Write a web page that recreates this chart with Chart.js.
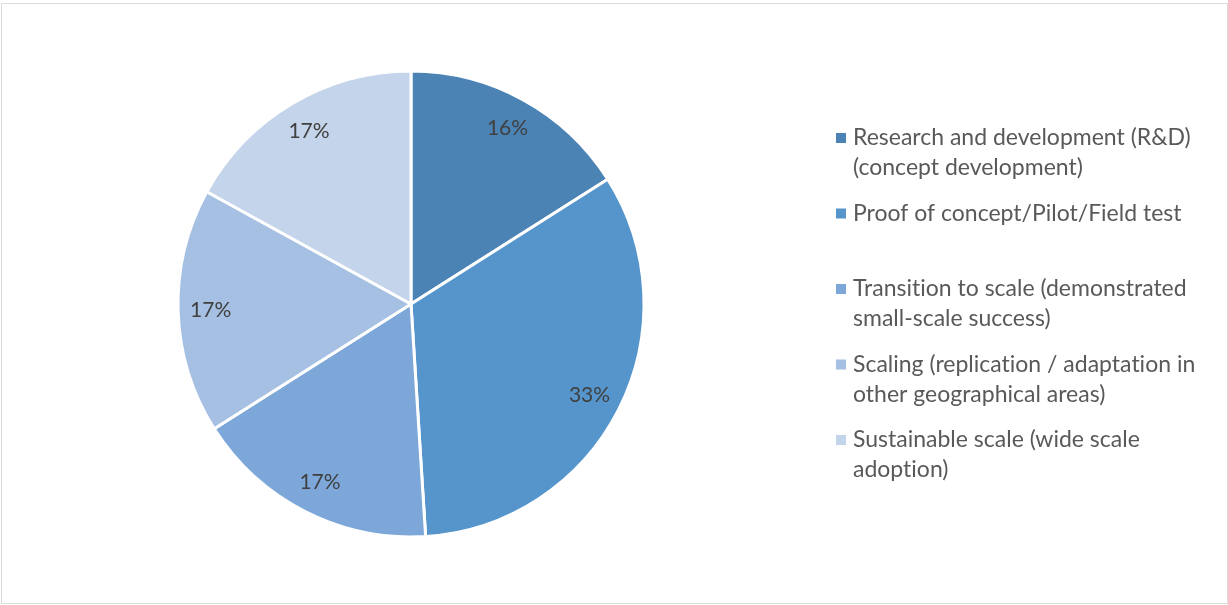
<!DOCTYPE html>
<html>
<head>
<meta charset="utf-8">
<script src="https://cdn.jsdelivr.net/npm/chart.js@4.4.1/dist/chart.umd.min.js"></script>
<style>
  html, body { margin: 0; padding: 0; background: #ffffff; }
  #wrap { position: relative; width: 1228px; height: 605px; overflow: hidden; }
  #frame { position: absolute; left: 1px; top: 3px; width: 1225px; height: 599px;
           border: 1.5px solid #dcdcdc; pointer-events: none; }
  canvas { position: absolute; left: 0; top: 0; }
</style>
</head>
<body>
<div id="wrap">
  <canvas id="c" width="1228" height="605"></canvas>
  <div id="frame"></div>
</div>
<script>
// Stages of innovation maturity and their share (%)
const stageLabels = [
  ["Research and development (R&D)", "(concept development)"],
  ["Proof of concept/Pilot/Field test"],
  ["Transition to scale (demonstrated", "small-scale success)"],
  ["Scaling (replication / adaptation in", "other geographical areas)"],
  ["Sustainable scale (wide scale", "adoption)"]
];
const sharePercent = [16, 33, 17, 17, 17];
const sliceColors = ["#4c83b5", "#5695cb", "#7ca7d8", "#a5c0e3", "#c4d4ea"];

const FONT = "Lato, 'Open Sans', sans-serif";

// Keep "ti"/"fi" as separate glyphs (a zero-width non-joiner blocks the ligature)
const noLig = s => s.replace(/([tf])(i)/g, "$1\u200C$2");

// Percentage labels placed toward the outer edge of each slice
const sliceLabels = {
  id: "sliceLabels",
  afterDatasetsDraw(chart) {
    const ctx = chart.ctx;
    const meta = chart.getDatasetMeta(0);
    const values = chart.data.datasets[0].data;
    ctx.save();
    ctx.font = "21px " + FONT;
    ctx.fillStyle = "#404040";
    ctx.textAlign = "center";
    ctx.textBaseline = "middle";
    meta.data.forEach((arc, i) => {
      const p = arc.getProps(["x", "y", "startAngle", "endAngle", "outerRadius"], true);
      const mid = (p.startAngle + p.endAngle) / 2;
      const r = p.outerRadius * 0.86;
      ctx.fillText(values[i] + "%", p.x + Math.cos(mid) * r, p.y + Math.sin(mid) * r);
    });
    ctx.restore();
  }
};

// Legend on the right, entries with wrapped text
const sideLegend = {
  id: "sideLegend",
  afterDraw(chart) {
    const ctx = chart.ctx;
    const ds = chart.data.datasets[0];
    const x0 = 836, textX = 853, firstY = 138, slot = 75.5, lineH = 30;
    ctx.save();
    ctx.font = "23px " + FONT;
    ctx.textBaseline = "middle";
    chart.data.labels.forEach((lines, i) => {
      const y = firstY + i * slot;
      ctx.fillStyle = ds.backgroundColor[i];
      ctx.fillRect(x0, y - 5, 10, 10);
      ctx.fillStyle = "#595959";
      lines.forEach((t, j) => ctx.fillText(noLig(t), textX, y + j * lineH));
    });
    ctx.restore();
  }
};

new Chart(document.getElementById("c"), {
  type: "pie",
  data: {
    labels: stageLabels,
    datasets: [{
      data: sharePercent,
      backgroundColor: sliceColors,
      borderColor: "#ffffff",
      borderWidth: 3
    }]
  },
  options: {
    responsive: false,
    animation: false,
    radius: 233,
    layout: { padding: { left: 178, right: 584, top: 71, bottom: 68 } },
    plugins: {
      legend: { display: false },
      tooltip: { enabled: false }
    }
  },
  plugins: [sliceLabels, sideLegend]
});
</script>
</body>
</html>
